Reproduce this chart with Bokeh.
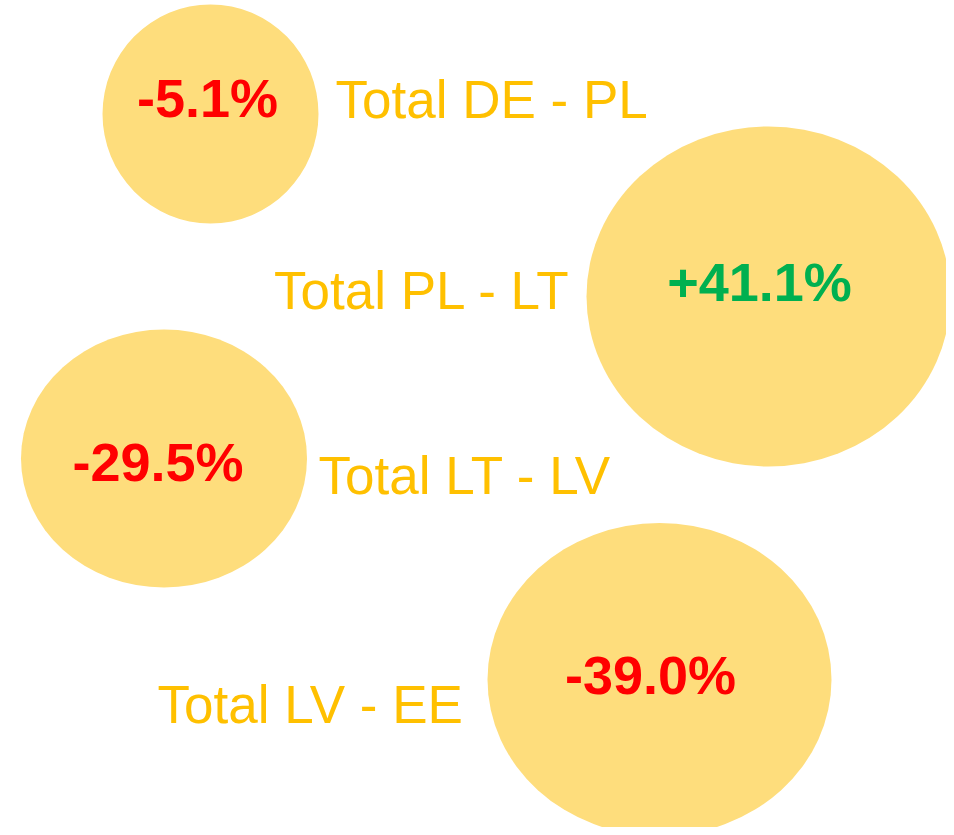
from bokeh.plotting import figure
from bokeh.models import Range1d, ColumnDataSource
from bokeh.core.properties import value
from bokeh.embed import file_html
from bokeh.resources import INLINE

# Data
categories = ["Total DE - PL", "Total PL - LT", "Total LT - LV", "Total LV - EE"]
changes = [-5.1, 41.1, -29.5, -39.0]

# Layout (screen-pixel coordinates)
bubble_x = [210, 768, 163.5, 659]
bubble_y = [113.5, 296, 458, 679]
bubble_w = [216, 364, 286, 344]
bubble_h = [219, 340, 258, 313]
pct_x = [207, 759, 157.5, 650]
pct_y = [97, 281, 461, 674]
label_x = [335, 570, 318, 157]
label_y = [99, 290, 475, 704]
label_align = ["left", "right", "left", "left"]

pct_text = [("+" if c > 0 else "") + f"{c:.1f}%" for c in changes]
pct_color = ["#00B050" if c > 0 else "#FF0000" for c in changes]

p = figure(width=946, height=827, output_backend="svg", toolbar_location=None,
           x_range=Range1d(0, 946), y_range=Range1d(827, 0), min_border=0)
p.axis.visible = False
p.grid.visible = False
p.outline_line_color = None
p.background_fill_color = "white"
p.border_fill_color = "white"

bubbles = ColumnDataSource(dict(x=bubble_x, y=bubble_y, w=bubble_w, h=bubble_h))
p.ellipse(x="x", y="y", width="w", height="h", source=bubbles,
          fill_color="#FEDD7C", line_color=None)

pcts = ColumnDataSource(dict(x=pct_x, y=pct_y, t=pct_text, c=pct_color))
p.text(x="x", y="y", text="t", source=pcts, text_color="c",
       text_font=value("Liberation Sans"), text_font_size=value("54px"),
       text_font_style="bold", text_align="center", text_baseline="alphabetic")

labels = ColumnDataSource(dict(x=label_x, y=label_y, t=categories, a=label_align))
p.text(x="x", y="y", text="t", source=labels, text_color="#FFC000",
       text_font=value("Liberation Sans"), text_font_size=value("53px"),
       text_align="a", text_baseline="alphabetic")

open("out.html", "w").write(file_html(p, INLINE))
